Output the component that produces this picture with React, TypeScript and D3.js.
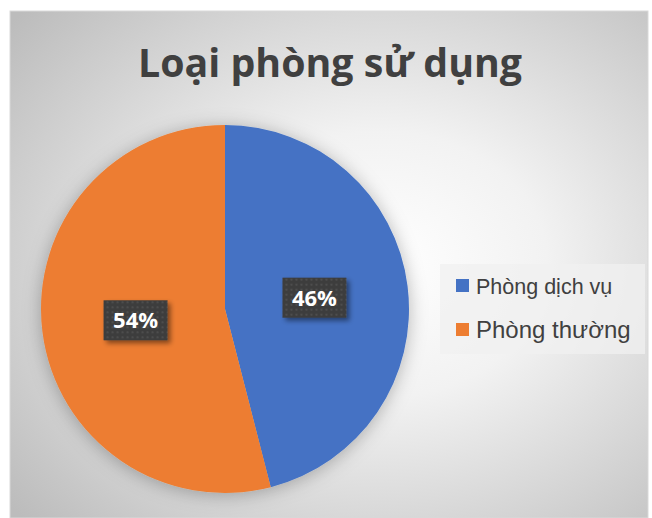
import React from "react";
import * as d3 from "d3";

const title = "Loại phòng sử dụng";
const categories = ["Phòng dịch vụ", "Phòng thường"];
const values = [46, 54];
const colors = ["#4472C4", "#ED7D31"];
const legendFontSizes = [21.5, 24];

export default function App() {
  const W = 652, H = 518;
  const cx = 225, cy = 309, r = 184;
  const pie = d3.pie<number>().sort(null).value((d) => d)(values);
  const arc = d3.arc<d3.PieArcDatum<number>>().innerRadius(0).outerRadius(r);
  const labelArc = d3.arc<d3.PieArcDatum<number>>().innerRadius(r * 0.49).outerRadius(r * 0.49);
  const total = d3.sum(values);
  const fmt = (v: number) => `${Math.round((v / total) * 100)}%`;

  return (
    <svg width={W} height={H} style={{ position: "absolute", left: 0, top: 0 }}>
      <defs>
        <radialGradient id="bg" cx="0.58" cy="0.5" r="0.75" gradientUnits="objectBoundingBox">
          <stop offset="0" stopColor="#ffffff" />
          <stop offset="0.35" stopColor="#f2f2f2" />
          <stop offset="1" stopColor="#bcbcbc" />
        </radialGradient>
        <filter id="pieShadow" x="-20%" y="-20%" width="140%" height="140%">
          <feDropShadow dx="0" dy="2" stdDeviation="9" floodColor="#000" floodOpacity="0.28" />
        </filter>
        <filter id="boxShadow" x="-30%" y="-30%" width="160%" height="160%">
          <feDropShadow dx="3" dy="3" stdDeviation="2.5" floodColor="#000" floodOpacity="0.45" />
        </filter>
        <pattern id="dots" width="5" height="5" patternUnits="userSpaceOnUse">
          <rect width="5" height="5" fill="#3d3d3d" />
          <rect x="1" y="1" width="2" height="2" fill="#4d4d4d" />
        </pattern>
      </defs>
      <rect x={0} y={0} width={W} height={H} fill="#ffffff" />
      <rect x={10} y={11} width={638} height={H - 11} fill="url(#bg)" stroke="#d9d9d9" strokeWidth={1} />
      <text
        x={330}
        y={77}
        textAnchor="middle"
        fontFamily="'Open Sans', sans-serif"
        fontWeight={700}
        fontSize={40}
        fill="#404040"
        textLength={384}
        lengthAdjust="spacingAndGlyphs"
      >
        {title}
      </text>
      <g transform={`translate(${cx},${cy})`}>
        <g filter="url(#pieShadow)">
          {pie.map((p, i) => (
            <path key={i} d={arc(p) || ""} fill={colors[i]} />
          ))}
        </g>
        {pie.map((p, i) => {
          const [lx, ly] = labelArc.centroid(p);
          const bw = 64, bh = 40;
          return (
            <g key={"l" + i} transform={`translate(${lx},${ly})`}>
              <rect x={-bw / 2} y={-bh / 2} width={bw} height={bh} fill="url(#dots)" filter="url(#boxShadow)" />
              <text
                x={0}
                y={8}
                textAnchor="middle"
                fontFamily="'Open Sans', sans-serif"
                fontWeight={700}
                fontSize={22}
                fill="#ffffff"
              >
                {fmt(p.value)}
              </text>
            </g>
          );
        })}
      </g>
      <rect x={440} y={264} width={205} height={90} fill="#f0f0f0" fillOpacity={0.75} />
      {categories.map((c, i) => {
        const base = [294, 338][i];
        return (
          <g key={c}>
            <rect x={456} y={base - 15} width={13} height={13} fill={colors[i]} />
            <text
              x={476}
              y={base}
              fontFamily="'Liberation Sans', Arial, sans-serif"
              fontSize={legendFontSizes[i]}
              fill="#404040"
            >
              {c}
            </text>
          </g>
        );
      })}
    </svg>
  );
}
